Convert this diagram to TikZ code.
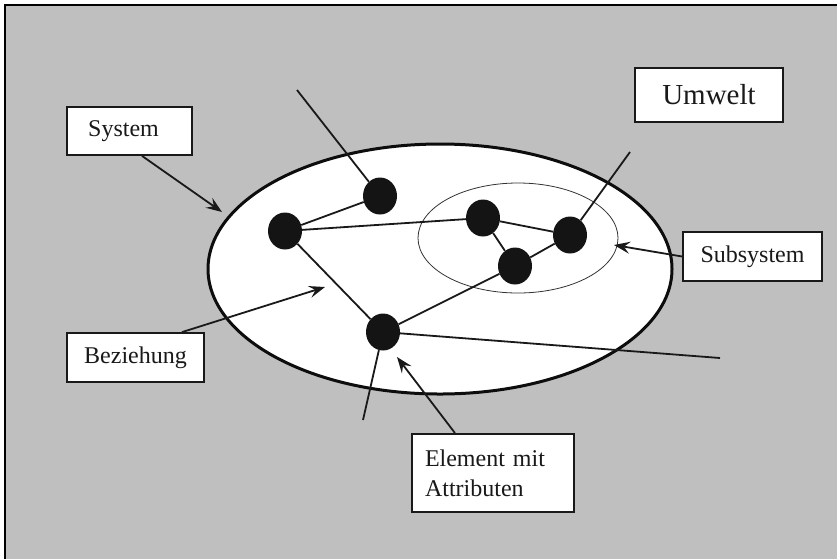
\documentclass[tikz,border=0pt]{standalone}
\usepackage{fontspec}
\setmainfont{Liberation Serif}
\usetikzlibrary{shapes.geometric,arrows.meta}
\begin{document}
\begin{tikzpicture}[x=1pt,y=-1pt,
  lbl/.style={draw=black!90, line width=1.8pt, fill=white, inner sep=0pt,
    font=\fontsize{24}{30}\selectfont, text=black!90},
  elem/.style={ellipse, fill=black!92, draw=none, minimum width=34pt,
    minimum height=37pt, inner sep=0pt},
  link/.style={line width=1.8pt, draw=black!90},
  arr/.style={line width=1.8pt, draw=black!90,
    -{Stealth[length=16pt,width=12pt,inset=6pt]}}
]
\useasboundingbox (0,0) rectangle (837,558);
\fill[white] (0,0) rectangle (837,558);
\draw[fill=black!25, line width=2pt] (5,5) rectangle (850,570);

% system and subsystem
\node[ellipse, draw=black!95, line width=3pt, fill=white, inner sep=0pt,
  minimum width=464pt, minimum height=250pt] (big) at (440,269) {};
\node[ellipse, draw=black!80, line width=0.8pt, inner sep=0pt,
  minimum width=200pt, minimum height=110pt] (subsys) at (518,238) {};

% elements
\node[elem] (a) at (285,231) {};
\node[elem] (b) at (380,196) {};
\node[elem] (c) at (483,218) {};
\node[elem] (d) at (570,235) {};
\node[elem] (e) at (515,266) {};
\node[elem] (f) at (383,332) {};

% free ends of relations to the environment
\coordinate (fb) at (297,90);
\coordinate (fd) at (630,152);
\coordinate (ff1) at (720,358);
\coordinate (ff2) at (363,420);

% relations
\draw[link] (a) -- (b);
\draw[link] (a) -- (c);
\draw[link] (a) -- (f);
\draw[link] (c) -- (d);
\draw[link] (c) -- (e);
\draw[link] (e) -- (d);
\draw[link] (f) -- (e);
\draw[link] (b) -- (fb);
\draw[link] (d) -- (fd);
\draw[link] (f) -- (ff1);
\draw[link] (f) -- (ff2);

% label boxes
\node[lbl, minimum width=125pt, minimum height=48pt] (sys) at (129.5,131) {\hspace*{-12pt}System};
\node[lbl, minimum width=148pt, minimum height=54pt,
  font=\fontsize{29}{34}\selectfont] (umw) at (709,95) {Umwelt};
\node[lbl, minimum width=139pt, minimum height=49pt] (sub) at (752.5,256.5) {Subsystem};
\node[lbl, minimum width=137pt, minimum height=49pt] (bez) at (135.5,357.5) {Beziehung};
\node[lbl, minimum height=78pt, text width=136pt, inner xsep=13pt, align=left] (ele) at (493,473)
  {Element mit\\Attributen};

% arrow targets
\coordinate (t1) at (222,212);
\coordinate (t2) at (325,287);
\coordinate (t3) at (397,357);
\coordinate (t4) at (614,245);

% arrows
\draw[arr] ([xshift=12.5pt]sys.south) -- (t1);
\draw[arr] ([xshift=46.5pt]bez.north) -- (t2);
\draw[arr] ([xshift=-38pt]ele.north) -- (t3);
\draw[arr] (sub.west) -- (t4);
\end{tikzpicture}
\end{document}
